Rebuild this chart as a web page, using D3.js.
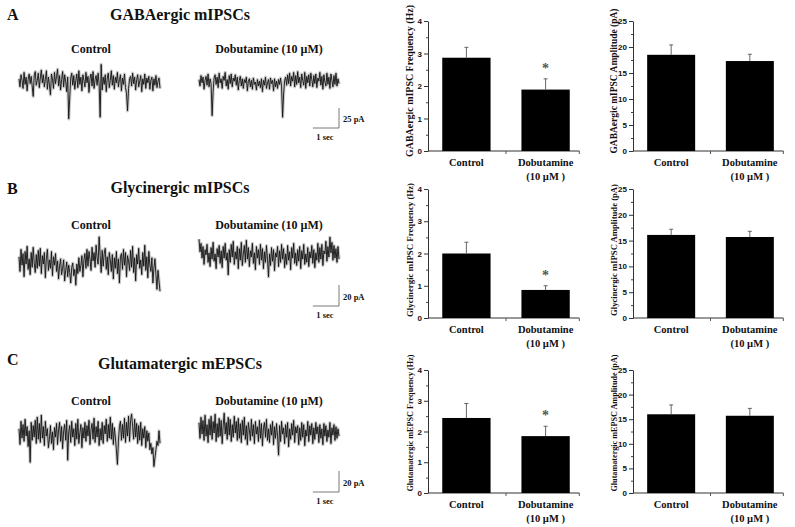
<!DOCTYPE html>
<html>
<head>
<meta charset="utf-8">
<script src="https://cdn.jsdelivr.net/npm/d3@7"></script>
<style>
  body { margin: 0; background: #fff; }
  svg { display: block; }
  text { font-family: "Liberation Serif", "Times New Roman", serif; font-weight: bold; fill: #111; }
  .tick text { font-family: "Liberation Sans", Arial, sans-serif; font-size: 8px; font-weight: bold; }
</style>
</head>
<body>
<svg id="fig" width="795" height="527"></svg>
<script>
// ---- data ----
const groups = ["Control", "Dobutamine"];
const freqTicks = [0, 1, 2, 3, 4];
const ampTicks = [0, 5, 10, 15, 20, 25];

const gabaFreq = [2.87, 1.89];
const gabaFreqErr = [0.32, 0.33];
const gabaAmp = [18.5, 17.3];
const gabaAmpErr = [1.9, 1.3];

const glyFreq = [2.0, 0.87];
const glyFreqErr = [0.35, 0.13];
const glyAmp = [16.1, 15.7];
const glyAmpErr = [1.1, 1.1];

const gluFreq = [2.44, 1.85];
const gluFreqErr = [0.47, 0.32];
const gluAmp = [16.0, 15.7];
const gluAmpErr = [1.9, 1.5];

// current traces (pA relative to baseline, read roughly along each sweep)
const gabaCtrlTrace = [4,-6,9,2,-8,12,-3,6,-11,3, 10,-2,7,-5,-18,8,13,-4,2,11, -7,5,15,-1,9,-6,3,14,-9,6,
  -3,-16,10,4,-8,12,-2,7,16,-5, 8,-10,3,13,-6,9,1,-12,6,-46, -20,5,11,-4,8,-9,2,10,-7,14,
  -3,6,-11,9,2,-6,12,-1,7,-13, 4,10,-5,13,-8,3,8,-4,11,-2, -44,22,-10,6,-3,9,-12,5,11,-7,
  2,14,-4,8,-9,6,-1,12,-6,3, 9,-11,5,-3,10,-7,-14,-36,-8,4, 7,-5,11,-2,6,-10,3,9,-6,1,
  8,-12,4,-3,10,-8,5,-1,7,-9, 2,6,-11,4,-4,8,-7,1,5,-8];
const gabaDobTrace = [3,-5,8,-1,6,-9,2,7,-4,10, -6,4,-2,-42,-12,5,9,-3,6,-7, 11,-1,4,-8,7,2,12,-5,3,-9,
  8,-2,10,-6,5,1,9,-4,6,-10, 2,7,-5,4,-8,3,-1,6,-11,1, 4,-6,2,-9,5,-3,0,-10,3,-5,
  1,-7,4,-12,2,-4,6,-8,-1,3, -9,5,-2,2,-11,4,-6,1,-8,3, -3,5,-6,-44,-15,2,6,-4,9,-2,
  11,-5,7,1,12,-6,8,-3,13,-1, 6,-7,10,2,-4,12,-8,7,-1,9, -5,11,3,-6,8,-2,10,-7,5,1,
  12,-4,7,-9,9,0,-5,11,-3,6, -8,10,2,-6,8,-3,11,-5,4,-2];
const glyCtrlTrace = [5,-9,12,-3,8,-14,10,-2,15,-7, 3,-12,9,-5,14,-1,-10,7,-6,11, -4,13,-11,6,-2,9,-15,4,12,-8,
  2,-6,10,-13,5,-3,8,-9,1,-16, -4,3,-12,-6,2,-18,-8,0,-14,-3, -10,-20,-5,-1,-13,-7,-22,-2,-11,4,
  -9,-3,6,-14,2,8,-6,12,-4,10, 3,-8,14,1,9,-5,16,4,-2,24, 6,-10,11,-4,8,13,-7,5,-12,9,
  2,-9,7,-16,4,-6,10,-11,3,-20, 5,8,-7,12,-3,9,-14,6,1,-8, 11,-5,15,-10,4,-18,7,-2,13,-6,
  2,-12,9,-4,16,-8,5,-15,10,-3, -9,4,-20,-6,3,-12,-26,-8,-18,-28];
const glyDobTrace = [16,4,12,-2,9,-8,6,1,11,-6, 3,-10,8,-3,13,-5,2,-12,7,-1, 10,-7,5,-11,9,-2,12,-4,3,-18,
  6,-6,11,-1,14,-8,4,-3,9,-12, 7,-4,13,-9,2,10,-6,15,-3,8, -10,5,-1,12,-7,3,-13,9,-2,6,
  -8,11,-4,7,-12,4,-6,10,-3,-20, 2,-9,8,-5,6,-14,3,-1,9,-10, 5,-6,11,-3,7,-11,2,-8,10,-4,
  4,-13,8,-2,12,-7,3,-9,6,-5, 9,-12,5,-3,11,-8,2,-6,8,-10, 4,-2,10,-7,6,-11,3,-4,12,-6,
  8,-3,11,-9,5,2,14,-5,9,-1, 18,3,13,-4,10,-2,7,-6,9,-3];
const gluCtrlTrace = [6,-9,13,-3,10,-6,15,-1,8,-11, 4,-26,12,-5,9,-2,14,-8,17,-4, 11,-7,19,-3,8,-10,13,-1,6,-12,
  -4,9,-8,3,-14,7,-2,11,-9,5, 12,-6,8,-13,4,10,-5,14,-24,3, 9,-7,13,-2,6,-10,11,-4,15,-8,
  2,10,-12,7,-3,12,-6,9,-1,14, -9,5,11,-4,16,-7,8,-2,13,-10, 6,-5,12,-8,9,1,15,-6,10,-3,
  17,-4,11,-9,7,-2,-14,-28,-6,8, 13,-5,10,-3,16,-7,12,-1,18,-6, 14,20,8,-4,15,-2,11,-8,9,-5,
  12,-10,6,-3,8,-12,4,-6,2,-14, -8,-18,-12,-30,-22,-14,-6,-10,4,-8];
const gluDobTrace = [9,-6,14,-2,11,-8,16,-4,7,-10, 12,-3,15,-7,10,-1,17,-9,8,-5, 13,-4,11,-11,6,18,-2,9,-7,14,
  -3,12,-9,7,-5,15,-1,10,-8,13, -6,8,-10,11,-3,14,-7,6,-12,9, 2,-8,12,-4,7,-11,10,-2,5,-9,
  11,-6,8,-13,4,9,-5,12,-8,3, -10,7,-3,10,-12,5,-6,8,-4,-22, 6,-9,10,-2,4,-11,7,-5,9,-14,
  3,-7,8,-3,11,-10,5,-1,6,-12, 4,-8,9,-5,7,-13,2,-4,10,-9, 6,-3,8,-11,4,-7,9,-2,5,-10,
  7,-6,3,-12,8,-4,6,-9,2,-5, 9,-11,4,-3,7,-8,5,-6,3,-4];

const traceSeconds = 5.4;

const svg = d3.select("#fig");

// ---- recording traces ----
function drawTrace(vals, x0, x1, base, pxPerPA) {
  const t = d3.scaleLinear().domain([0, traceSeconds]).range([x0, x1]);
  const y = d3.scaleLinear().domain([0, 10]).range([base, base - 10 * pxPerPA]);
  const line = d3.line()
    .x((d, i) => t(i / (vals.length - 1) * traceSeconds))
    .y(d => y(d));
  // soft grey fringe, then the dark core
  svg.append("path").attr("d", line(vals)).attr("fill", "none")
    .attr("stroke", "#8a8a8a").attr("stroke-width", 3.2).attr("stroke-opacity", 0.45)
    .attr("stroke-linejoin", "round");
  svg.append("path").attr("d", line(vals)).attr("fill", "none")
    .attr("stroke", "#111").attr("stroke-width", 0.9);
  return t;
}

function scaleBar(cx, cy, pA, pxPerPA, t, pALabelY, secLabelY) {
  const h = pA * pxPerPA;
  const w = t(1) - t(0);
  svg.append("path")
    .attr("d", `M${cx - w},${cy}H${cx}V${cy - h}`)
    .attr("fill", "none").attr("stroke", "#555").attr("stroke-width", 0.8);
  svg.append("text").attr("x", cx + 4).attr("y", pALabelY)
    .attr("font-size", 8.5).text(pA + " pA");
  svg.append("text").attr("x", cx - w / 2 - 1).attr("y", secLabelY)
    .attr("text-anchor", "middle").attr("font-size", 8.5).text("1 sec");
}

function rowLeft(letter, title, base, traces) {
  svg.append("text").attr("x", 7).attr("y", base.letterY).attr("font-size", 16).text(letter);
  svg.append("text").attr("x", 180).attr("y", base.titleY).attr("text-anchor", "middle")
    .attr("font-size", 16).text(title);
  svg.append("text").attr("x", 91).attr("y", base.condY).attr("text-anchor", "middle")
    .attr("font-size", 12).text("Control");
  svg.append("text").attr("x", 269).attr("y", base.condY).attr("text-anchor", "middle")
    .attr("font-size", 12).text("Dobutamine (10 µM)");
  const t = drawTrace(traces[0], 19, 160, base.ctrlBase, base.pxPerPA);
  drawTrace(traces[1], 199, 339, base.dobBase, base.pxPerPA);
  scaleBar(339, base.barY, base.pA, base.pxPerPA, t, base.barY - 6, base.barY + 12);
}

rowLeft("A", "GABAergic mIPSCs",
  { letterY: 20, titleY: 20, condY: 53, ctrlBase: 82, dobBase: 82, pxPerPA: 0.8, pA: 25, barY: 128 },
  [gabaCtrlTrace, gabaDobTrace]);
rowLeft("B", "Glycinergic mIPSCs",
  { letterY: 194, titleY: 193, condY: 229, ctrlBase: 262, dobBase: 256, pxPerPA: 1.05, pA: 20, barY: 306 },
  [glyCtrlTrace, glyDobTrace]);
rowLeft("C", "Glutamatergic mEPSCs",
  { letterY: 365, titleY: 369, condY: 405, ctrlBase: 435, dobBase: 432, pxPerPA: 1.05, pA: 20, barY: 492 },
  [gluCtrlTrace, gluDobTrace]);

// ---- bar charts ----
function barChart(o) {
  const g = svg.append("g");
  const x = d3.scaleBand().domain(groups).range([o.x0, o.x1])
    .paddingInner(0.39).paddingOuter(0.18);
  const y = d3.scaleLinear().domain([0, o.max]).range([o.yZero, o.yTop]);
  const minor = d3.range(o.step / 2, o.max, o.step);

  // minor ticks
  g.append("g").attr("transform", `translate(${o.x0},0)`)
    .call(d3.axisLeft(y).tickValues(minor).tickSize(2).tickFormat(""))
    .call(a => a.select(".domain").remove())
    .selectAll("line").attr("stroke", "#444");
  // major axis
  g.append("g").attr("transform", `translate(${o.x0},0)`)
    .call(d3.axisLeft(y).tickValues(o.ticks).tickFormat(d3.format("d"))
      .tickSize(4).tickSizeOuter(0).tickPadding(2))
    .call(a => a.select(".domain").attr("stroke", "#333"))
    .call(a => a.selectAll(".tick line").attr("stroke", "#333"));

  // x axis line with small ticks
  const xEnd = o.x0 + (o.x1 - o.x0) * 0.97;
  g.append("line").attr("x1", o.x0).attr("x2", xEnd).attr("y1", o.yZero).attr("y2", o.yZero)
    .attr("stroke", "#333");
  const mid = (x(groups[0]) + x.bandwidth() + x(groups[1])) / 2;
  [mid, xEnd].forEach(v => g.append("line").attr("x1", v).attr("x2", v)
    .attr("y1", o.yZero).attr("y2", o.yZero + 3).attr("stroke", "#555"));

  // bars
  g.selectAll("rect.bar").data(groups).join("rect")
    .attr("x", d => x(d)).attr("width", x.bandwidth())
    .attr("y", (d, i) => y(o.values[i]))
    .attr("height", (d, i) => o.yZero - y(o.values[i]))
    .attr("fill", "#000");

  // error bars (upper only)
  groups.forEach((d, i) => {
    const cx = x(d) + x.bandwidth() / 2;
    const top = y(o.values[i] + o.errs[i]);
    g.append("line").attr("x1", cx).attr("x2", cx).attr("y1", y(o.values[i])).attr("y2", top)
      .attr("stroke", "#555").attr("stroke-width", 0.9);
    g.append("line").attr("x1", cx - 2).attr("x2", cx + 2).attr("y1", top).attr("y2", top)
      .attr("stroke", "#555").attr("stroke-width", 0.9);
    if (o.star && i === 1) {
      g.append("text").attr("x", cx).attr("y", top - 6).attr("text-anchor", "middle")
        .attr("font-size", 14).attr("font-weight", "normal").style("fill", "#555").text("*");
    }
  });

  // category labels
  groups.forEach(d => {
    const cx = x(d) + x.bandwidth() / 2;
    g.append("text").attr("x", cx).attr("y", o.yZero + 15).attr("text-anchor", "middle")
      .attr("font-size", 10.5).text(d);
    if (d === "Dobutamine") {
      g.append("text").attr("x", cx).attr("y", o.yZero + 29).attr("text-anchor", "middle")
        .attr("font-size", 10.5).text("(10 µM )");
    }
  });

  // y label
  g.append("text")
    .attr("transform", `translate(${o.labelX},${o.labelY}) rotate(-90)`)
    .attr("text-anchor", "middle").attr("font-size", o.labelSize)
    .attr("textLength", o.labelLen).attr("lengthAdjust", "spacingAndGlyphs")
    .text(o.label);
}

const rows = [
  { yTop: 21, yZero: 151, labelY: 81, name: "GABAergic mIPSC", lenF: 152, lenA: 145, fs: 10,
    f: gabaFreq, fe: gabaFreqErr, a: gabaAmp, ae: gabaAmpErr },
  { yTop: 189, yZero: 318, labelY: 250, name: "Glycinergic mIPSC", lenF: 134, lenA: 132, fs: 8.8,
    f: glyFreq, fe: glyFreqErr, a: glyAmp, ae: glyAmpErr },
  { yTop: 370, yZero: 493, labelY: 423, name: "Glutamatergic mEPSC", lenF: 137, lenA: 137, fs: 8.6,
    f: gluFreq, fe: gluFreqErr, a: gluAmp, ae: gluAmpErr }
];

rows.forEach(r => {
  barChart({ x0: 428, x1: 584, yTop: r.yTop, yZero: r.yZero, max: 4, step: 1, ticks: freqTicks,
    values: r.f, errs: r.fe, star: true,
    label: r.name + " Frequency (Hz)", labelX: 413, labelY: r.labelY, labelSize: r.fs, labelLen: r.lenF });
  barChart({ x0: 633, x1: 788, yTop: r.yTop, yZero: r.yZero, max: 25, step: 5, ticks: ampTicks,
    values: r.a, errs: r.ae, star: false,
    label: r.name + " Amplitude (pA)", labelX: 617, labelY: r.labelY, labelSize: r.fs, labelLen: r.lenA });
});
</script>
</body>
</html>
